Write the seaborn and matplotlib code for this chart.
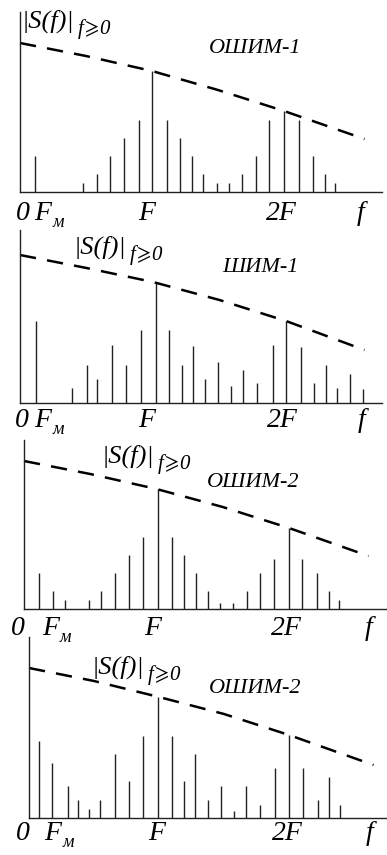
import matplotlib
matplotlib.use("Agg")
import matplotlib.pyplot as plt
import seaborn as sns
import pandas as pd

# spectra: frequency in units of F_M (F = 10 F_M), amplitude in arbitrary units
titles = ["ОШИМ-1", "ШИМ-1", "ОШИМ-2", "ОШИМ-2"]

freq_1 = [1.1, 4.8, 5.8, 6.8, 7.9, 9.0, 10.0, 11.1, 12.1, 13.0, 13.9, 14.9, 15.8, 16.8, 17.9,
          18.9, 20.0, 21.1, 22.2, 23.1, 23.9]
amp_1 = [36, 9, 18, 36, 54, 72, 121, 72, 54, 36, 18, 9, 9, 18, 36, 72, 81, 72, 36, 18, 9]

freq_2 = [1.2, 3.9, 5.0, 5.8, 6.9, 8.0, 9.1, 10.2, 11.2, 12.2, 13.0, 13.9, 14.9, 15.9, 16.8,
          17.8, 19.0, 20.0, 21.1, 22.1, 23.0, 23.8, 24.8, 25.8]
amp_2 = [82, 15, 38, 24, 58, 38, 73, 121, 73, 38, 57, 24, 41, 17, 33, 20, 58, 82, 56, 20, 38,
         15, 29, 14]

freq_3 = [1.1, 2.2, 3.1, 4.9, 5.8, 6.9, 7.9, 9.0, 10.1, 11.2, 12.1, 13.0, 13.9, 14.8, 15.8,
          16.8, 17.8, 18.9, 20.0, 21.0, 22.1, 23.0, 23.8]
amp_3 = [36, 18, 9, 9, 18, 36, 54, 72, 120, 72, 54, 36, 18, 6, 6, 18, 36, 50, 81, 50, 36, 18, 9]

freq_4 = [0.8, 1.8, 3.0, 3.8, 4.6, 5.5, 6.6, 7.7, 8.8, 9.9, 11.0, 11.9, 12.8, 13.8, 14.8, 15.8,
          16.7, 17.8, 18.9, 20.0, 21.1, 22.2, 23.1, 23.9]
amp_4 = [77, 55, 32, 18, 9, 18, 64, 37, 82, 121, 82, 37, 64, 18, 32, 7, 32, 13, 50, 83, 50, 18,
         41, 13]

# dashed envelope |S(f)|
env_f_1 = [0, 5, 10, 15, 20, 26.1]
env_a_1 = [149, 136, 121, 102, 81, 53]
env_f_2 = [0, 5, 10, 15, 20, 25.9]
env_a_2 = [148, 135, 121, 103, 82, 53]
env_f_3 = [0, 5, 10, 15, 20, 26.0]
env_a_3 = [148, 135, 120, 102, 81, 53]
env_f_4 = [0, 5, 10, 15, 20, 26.5]
env_a_4 = [150, 137, 121, 104, 83, 53]

freqs = [freq_1, freq_2, freq_3, freq_4]
amps = [amp_1, amp_2, amp_3, amp_4]
env_fs = [env_f_1, env_f_2, env_f_3, env_f_4]
env_as = [env_a_1, env_a_2, env_a_3, env_a_4]

W, H = 387, 855
sns.set_theme(style="white")
plt.rcParams["font.family"] = ["Liberation Serif", "STIXGeneral", "DejaVu Serif"]
serif = ["Liberation Serif", "STIXGeneral", "DejaVu Serif"]
symb = ["STIXGeneral", "DejaVu Sans"]
ink = "#222222"

# layout in pixels: y-axis x, px per F_M, right end, baseline y, top y
layout = [
    dict(x0=20, u=13.2, right=382, base=192, top=12, tick_off=28,
         ticks=[0.2, 1.75, 9.6, 19.8, 25.8], s_pos=(22, 28), t_pos=(209, 53)),
    dict(x0=20, u=13.3, right=382, base=403, top=230, tick_off=24,
         ticks=[0.15, 1.7, 9.5, 19.7, 25.7], s_pos=(74, 254), t_pos=(222, 272)),
    dict(x0=24, u=13.25, right=387, base=609, top=440, tick_off=26,
         ticks=[-0.45, 2.0, 9.7, 19.8, 26.0], s_pos=(102, 463), t_pos=(207, 487)),
    dict(x0=29, u=13.0, right=387, base=818, top=637, tick_off=22,
         ticks=[-0.45, 1.85, 9.85, 19.9, 26.2], s_pos=(92, 674), t_pos=(209, 693)),
]

fig = plt.figure(figsize=(W / 100, H / 100), dpi=100)


def italic(ax, s, xy, xycoords, size, xytext=(0, 0), ha="left", va="baseline",
           style="italic", family=serif):
    return ax.annotate(s, xy=xy, xycoords=xycoords, xytext=xytext, textcoords="offset pixels",
                       ha=ha, va=va, fontsize=size, fontstyle=style, family=family,
                       color="black", annotation_clip=False)


for i, lay in enumerate(layout):
    ax = fig.add_axes([lay["x0"] / W, 1 - lay["base"] / H, (lay["right"] - lay["x0"]) / W,
                       (lay["base"] - lay["top"]) / H])
    ax.set_xlim(0, (lay["right"] - lay["x0"]) / lay["u"])
    ax.set_ylim(0, lay["base"] - lay["top"])

    ax.vlines(freqs[i], 0, amps[i], color=ink, lw=1.0)
    env = pd.DataFrame({"f": env_fs[i], "a": env_as[i]})
    sns.lineplot(data=env, x="f", y="a", ax=ax, color="black", lw=1.8,
                 linestyle=(0, (6.5, 4.5)), legend=False, clip_on=False)

    sns.despine(ax=ax)
    for side in ["left", "bottom"]:
        ax.spines[side].set_color(ink)
        ax.spines[side].set_linewidth(1.0)
    ax.set_xticks([])
    ax.set_yticks([])
    ax.set_xlabel("")
    ax.set_ylabel("")
    ax.patch.set_alpha(0)

    # axis labels under the frequency axis
    tx = lay["ticks"]
    off = (0, -lay["tick_off"])
    coords = ("data", "axes fraction")
    italic(ax, "0", (tx[0], 0), coords, 20, off, ha="center")
    fm = italic(ax, "F", (tx[1], 0), coords, 20, off, ha="center")
    italic(ax, "м", (1, 0), fm, 13, (1, -1))
    italic(ax, "F", (tx[2], 0), coords, 20, off, ha="center")
    italic(ax, "2F", (tx[3], 0), coords, 20, off, ha="center")
    italic(ax, "f", (tx[4], 0), coords, 20, off, ha="center")

    # |S(f)| label with f ⩾ 0 subscript, and modulation type
    sx, sy = lay["s_pos"]
    s_main = italic(ax, "|S(f)|", (sx, H - sy), "figure pixels", 19)
    p1 = italic(ax, "f", (1, 0), s_main, 15, (3, -1))
    p2 = italic(ax, "⩾", (1, 0), p1, 15, (1, 0), va="bottom", style="normal", family=symb)
    italic(ax, "0", (1, 0), p2, 15, (1, 0), va="bottom")
    tx0, ty0 = lay["t_pos"]
    italic(ax, titles[i], (tx0, H - ty0), "figure pixels", 16)

fig.savefig("out.png", dpi=100)
